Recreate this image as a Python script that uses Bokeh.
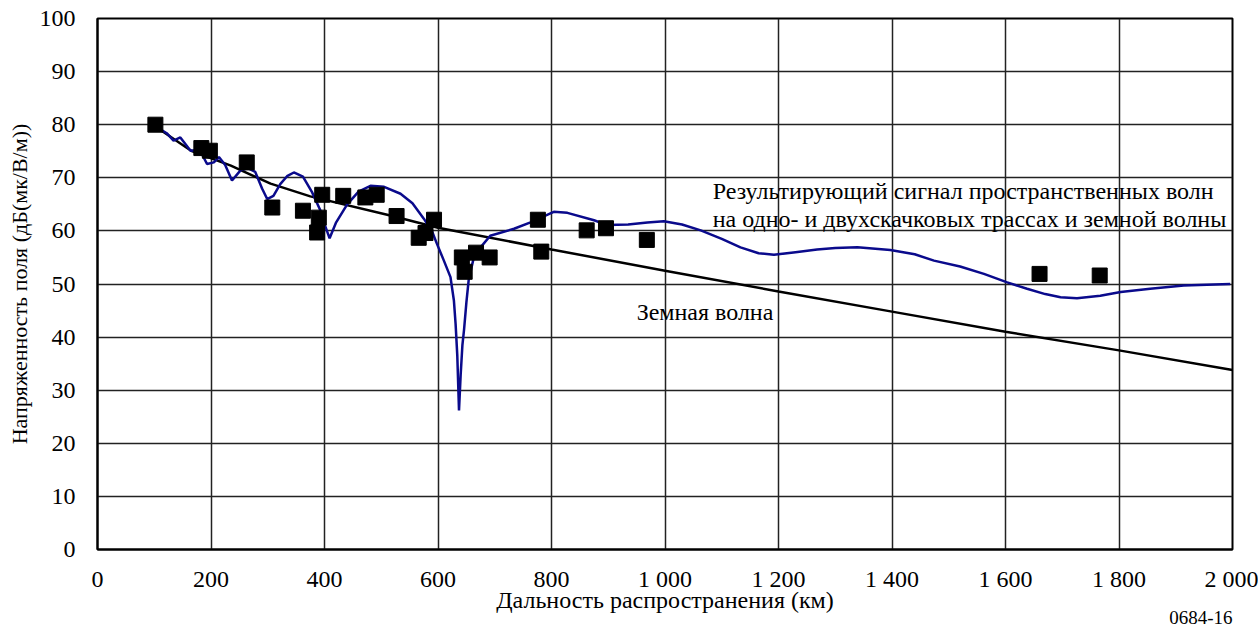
from bokeh.plotting import figure
from bokeh.models import FixedTicker, Title
from bokeh.embed import file_html
from bokeh.resources import INLINE
from bokeh.core.properties import value

# Measured field strength points (km, dB(uV/m))
meas_km = [102, 183, 198, 263, 308, 362, 387, 390, 396, 433, 472, 492, 527, 566, 578, 593, 642, 647, 667, 691, 776, 782, 862, 896, 968, 1660, 1766]
meas_db = [80.0, 75.6, 75.1, 72.9, 64.4, 63.8, 59.7, 62.5, 66.8, 66.6, 66.3, 66.8, 62.8, 58.7, 59.6, 62.1, 55.0, 52.3, 55.9, 55.0, 62.1, 56.1, 60.1, 60.5, 58.3, 51.9, 51.6]

# Ground wave
gw_km = [100, 165, 235, 305, 375, 516, 600, 800, 1000, 1200, 1400, 1600, 1800, 2000]
gw_db = [79.8, 75.1, 72.3, 68.9, 66.5, 62.9, 60.6, 56.5, 52.5, 48.6, 44.8, 41.0, 37.5, 33.8]

# Resultant sky wave (one- and two-hop) + ground wave
sw_km = [110, 122, 134, 146, 164, 180, 193, 205, 214, 225, 237, 252, 265, 278, 290, 299, 310, 322, 334, 346, 362, 378, 393, 401, 409, 420, 440, 460, 481, 505, 534, 555, 575, 590, 598, 610, 622, 628, 631, 634, 637, 640, 643, 646, 650, 654, 662, 675, 692, 734, 763, 804, 828, 875, 898, 935, 969, 998, 1030, 1063, 1100, 1133, 1165, 1192, 1230, 1268, 1300, 1339, 1397, 1440, 1474, 1520, 1562, 1603, 1638, 1670, 1697, 1726, 1767, 1803, 1855, 1914, 1996]
sw_db = [79.2, 78.4, 77.0, 77.6, 75.1, 75.3, 72.6, 72.9, 73.9, 72.4, 69.5, 71.4, 71.8, 71.1, 68.0, 66.0, 66.6, 68.8, 70.3, 71.0, 70.2, 67.3, 63.8, 61.0, 58.6, 61.5, 65.0, 67.4, 68.5, 68.3, 67.0, 65.2, 62.3, 59.8, 57.6, 54.5, 51.3, 46.9, 42.5, 36.5, 26.2, 33.0, 38.5, 41.5, 46.5, 50.7, 54.5, 56.9, 59.1, 60.4, 61.6, 63.6, 63.4, 62.0, 61.1, 61.2, 61.6, 61.8, 61.2, 60.1, 58.5, 56.9, 55.8, 55.5, 56.0, 56.5, 56.8, 56.9, 56.4, 55.6, 54.4, 53.3, 51.9, 50.3, 49.1, 48.1, 47.5, 47.3, 47.8, 48.5, 49.1, 49.7, 50.0]

x_ticks = [0, 200, 400, 600, 800, 1000, 1200, 1400, 1600, 1800, 2000]
x_tick_labels = ["0", "200", "400", "600", "800", "1 000", "1 200", "1 400", "1 600", "1 800", "2 000"]
y_ticks = [0, 10, 20, 30, 40, 50, 60, 70, 80, 90, 100]

x_title = "Дальность распространения (км)"
y_title = "Напряженность поля (дБ(мк/В/м))"
fig_code = "0684-16"

FONT = "Liberation Serif"
FS = "24px"

p = figure(width=1258, height=628, x_range=(0, 2000), y_range=(0, 100),
           output_backend="svg", toolbar_location=None,
           min_border_left=97, min_border_right=26, min_border_top=18, min_border_bottom=79)
p.background_fill_color = "white"
p.border_fill_color = "white"
p.outline_line_color = "black"
p.outline_line_width = 2

p.xaxis.ticker = FixedTicker(ticks=x_ticks)
p.xaxis.major_label_overrides = {t: l for t, l in zip(x_ticks, x_tick_labels)}
p.yaxis.ticker = FixedTicker(ticks=y_ticks)

for ax in (p.xaxis[0], p.yaxis[0]):
    ax.major_tick_line_color = None
    ax.minor_tick_line_color = None
    ax.axis_line_color = "black"
    ax.axis_line_width = 2
    ax.major_label_text_font = FONT
    ax.major_label_text_font_size = FS
    ax.major_label_text_color = "black"
    ax.axis_label_text_font = FONT
    ax.axis_label_text_font_size = FS
    ax.axis_label_text_font_style = "normal"
    ax.axis_label_text_color = "black"

p.xaxis.axis_label = x_title
p.yaxis.axis_label = y_title
p.yaxis.axis_label_text_font_size = "22px"
p.xaxis.major_label_standoff = 10
p.xaxis.axis_label_standoff = -8
p.yaxis.major_label_standoff = 16
p.yaxis.axis_label_standoff = 5

p.add_layout(Title(text=fig_code, align="right", text_font=FONT, text_font_size="19px",
                   text_font_style="normal", text_color="black", standoff=-13), "below")

p.xgrid.ticker = FixedTicker(ticks=x_ticks)
p.ygrid.ticker = FixedTicker(ticks=y_ticks)
for g in (p.xgrid[0], p.ygrid[0]):
    g.grid_line_color = "#222222"
    g.grid_line_width = 1.5

p.line(gw_km, gw_db, line_color="black", line_width=2.5)
p.line(sw_km, sw_db, line_color="#0a0a8c", line_width=2.5)
p.scatter(meas_km, meas_db, marker="square", size=15, fill_color="black", line_color="black")

p.text(x=[1084, 1084], y=[67.6, 62.3],
       text=["Результирующий сигнал пространственных волн",
             "на одно- и двухскачковых трассах и земной волны"],
       text_font=value(FONT), text_font_size=FS, text_color="black",
       text_baseline="middle", text_align="left")
p.text(x=[950], y=[44.8], text=["Земная волна"],
       text_font=value(FONT), text_font_size=FS, text_color="black",
       text_baseline="middle", text_align="left")

open("out.html", "w").write(file_html(p, INLINE))
